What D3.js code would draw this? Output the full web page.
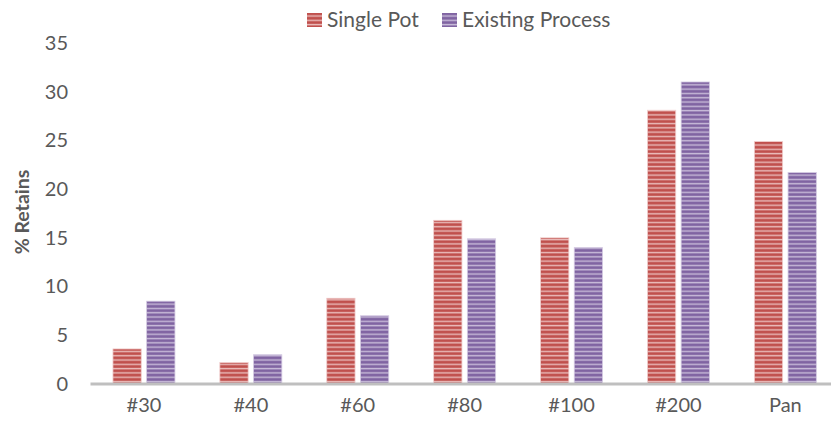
<!DOCTYPE html>
<html>
<head>
<meta charset="utf-8">
<script src="https://cdn.jsdelivr.net/npm/d3@7/dist/d3.min.js"></script>
<style>
  html, body { margin: 0; padding: 0; background: #fff; }
  svg { display: block; }
  text { font-family: Lato, "Open Sans", "Liberation Sans", sans-serif; fill: #595959; }
</style>
</head>
<body>
<svg id="chart" width="831" height="425"></svg>
<script>
// Sieve fractions
const categories = ["#30", "#40", "#60", "#80", "#100", "#200", "Pan"];
const seriesNames = ["Single Pot", "Existing Process"];
const singlePot = [3.6, 2.2, 8.8, 16.8, 15.0, 28.1, 24.9];
const existingProcess = [8.5, 3.0, 7.0, 14.9, 14.0, 31.0, 21.7];
const yTicks = [0, 5, 10, 15, 20, 25, 30, 35];

const seriesValues = [singlePot, existingProcess];
const stripeColors = [
  { dark: "#c0504d", light: "#f1cfce" },
  { dark: "#8064a2", light: "#d5cbe3" }
];

const svg = d3.select("#chart");
const defs = svg.append("defs");

// Horizontal stripe fills for each series
stripeColors.forEach((c, i) => {
  const gid = "sg" + i;
  const g = defs.append("linearGradient")
    .attr("id", gid).attr("x1", 0).attr("y1", 0).attr("x2", 0).attr("y2", 1);
  g.append("stop").attr("offset", "0%").attr("stop-color", c.dark);
  g.append("stop").attr("offset", "45%").attr("stop-color", c.dark);
  g.append("stop").attr("offset", "75%").attr("stop-color", c.light);
  g.append("stop").attr("offset", "100%").attr("stop-color", c.dark);
  const p = defs.append("pattern")
    .attr("id", "stripe" + i)
    .attr("patternUnits", "userSpaceOnUse")
    .attr("width", 8).attr("height", 4.3);
  p.append("rect").attr("width", 8).attr("height", 4.3).attr("fill", `url(#${gid})`);
});

const x0 = d3.scaleBand().domain(categories).range([90.5, 838.8]).padding(0);
const groupWidth = 62;
const x1 = d3.scaleBand().domain(seriesNames).range([0, groupWidth]).paddingInner(0.16);
const y = d3.scaleLinear().domain([0, 35]).range([384, 43]);

// Bars
const groups = svg.append("g").selectAll("g")
  .data(categories)
  .join("g")
  .attr("transform", d => `translate(${x0(d) + (x0.bandwidth() - groupWidth) / 2},0)`);

groups.selectAll("rect")
  .data((d, ci) => seriesNames.map((s, si) => ({ s, si, v: seriesValues[si][ci] })))
  .join("rect")
  .attr("x", d => x1(d.s))
  .attr("width", x1.bandwidth())
  .attr("y", d => y(d.v))
  .attr("height", d => y(0) - y(d.v))
  .attr("fill", d => `url(#stripe${d.si})`)
  .attr("stroke", d => stripeColors[d.si].light)
  .attr("stroke-width", 0.8);

// Baseline
svg.append("line")
  .attr("x1", 90.5).attr("x2", 838.8)
  .attr("y1", y(0)).attr("y2", y(0))
  .attr("stroke", "#bfbfbf").attr("stroke-width", 3);

// Y axis labels
const yAxis = d3.axisLeft(y).tickValues(yTicks).tickSize(0).tickPadding(0);
const yg = svg.append("g").attr("transform", "translate(68,0)").call(yAxis);
yg.select(".domain").remove();
yg.selectAll("text").style("font-size", "20px").attr("fill", "#595959")
  .attr("font-family", null);

// X axis labels
const xAxis = d3.axisBottom(x0).tickSize(0).tickPadding(0);
const xg = svg.append("g").attr("transform", "translate(0,398)").call(xAxis);
xg.select(".domain").remove();
xg.selectAll("text").style("font-size", "20px").attr("fill", "#595959")
  .attr("font-family", null);

// Y title
svg.append("text")
  .attr("transform", "translate(29,212) rotate(-90)")
  .attr("text-anchor", "middle")
  .style("font-size", "19.5px").style("font-weight", "bold")
  .text("% Retains");

// Legend
const legendX = [307, 442];
seriesNames.forEach((s, i) => {
  svg.append("rect")
    .attr("x", legendX[i]).attr("y", 13).attr("width", 15).attr("height", 14)
    .attr("fill", `url(#stripe${i})`);
  svg.append("text")
    .attr("x", legendX[i] + 20).attr("y", 27)
    .style("font-size", "21px")
    .text(s);
});
</script>
</body>
</html>
